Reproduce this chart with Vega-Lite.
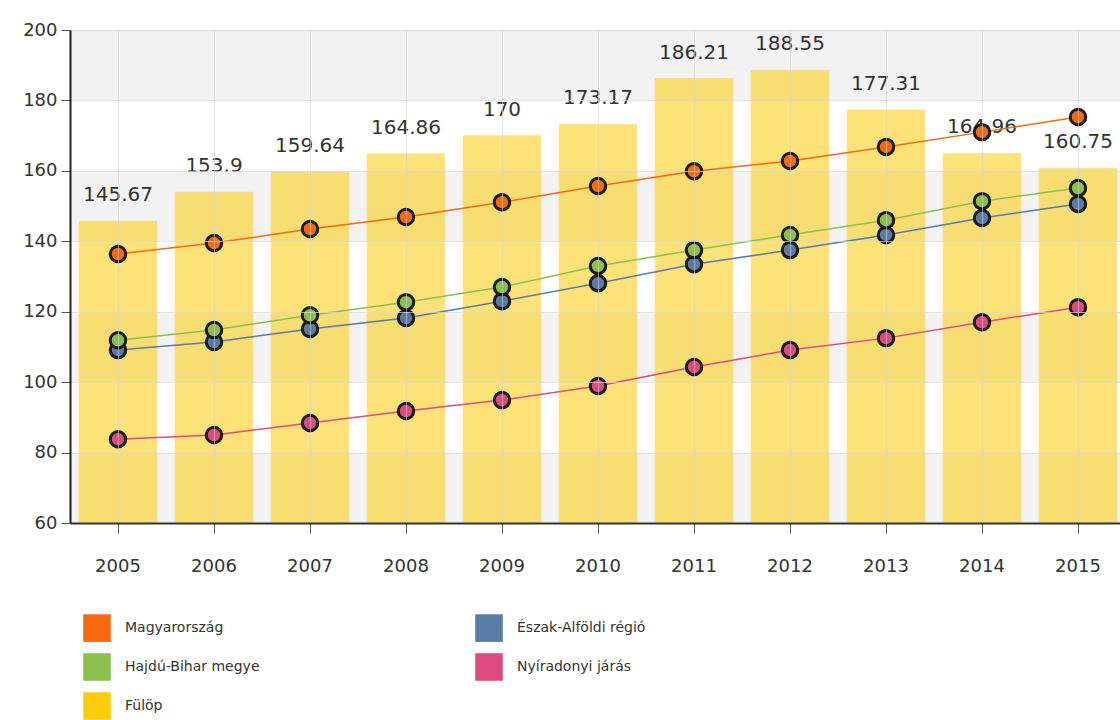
{
  "$schema": "https://vega.github.io/schema/vega-lite/v6.json",
  "autosize": "none",
  "width": 1056,
  "height": 493,
  "padding": {"left": 70, "top": 30, "right": 0, "bottom": 197},
  "background": "white",
  "config": {
    "font": "DejaVu Sans",
    "view": {"stroke": null},
    "legend": {
      "title": null,
      "orient": "none",
      "legendX": 13,
      "legendY": 584,
      "columns": 2,
      "columnPadding": 215,
      "rowPadding": 11,
      "symbolType": "square",
      "symbolSize": 760,
      "symbolOpacity": 1,
      "symbolStrokeWidth": 0,
      "labelFontSize": 14,
      "labelColor": "#333",
      "labelOffset": 14,
      "labelLimit": 300
    }
  },
  "datasets": {
    "bars": [
      {"year": "2005", "value": 145.67},
      {"year": "2006", "value": 153.9},
      {"year": "2007", "value": 159.64},
      {"year": "2008", "value": 164.86},
      {"year": "2009", "value": 170},
      {"year": "2010", "value": 173.17},
      {"year": "2011", "value": 186.21},
      {"year": "2012", "value": 188.55},
      {"year": "2013", "value": 177.31},
      {"year": "2014", "value": 164.96},
      {"year": "2015", "value": 160.75}
    ],
    "bands": [
      {"lo": 60, "hi": 80},
      {"lo": 100, "hi": 120},
      {"lo": 140, "hi": 160},
      {"lo": 180, "hi": 200}
    ],
    "lines": [
      {"year": "2005", "series": "Magyarország", "value": 136.4},
      {"year": "2006", "series": "Magyarország", "value": 139.5},
      {"year": "2007", "series": "Magyarország", "value": 143.5},
      {"year": "2008", "series": "Magyarország", "value": 146.9},
      {"year": "2009", "series": "Magyarország", "value": 151.1},
      {"year": "2010", "series": "Magyarország", "value": 155.7},
      {"year": "2011", "series": "Magyarország", "value": 159.9},
      {"year": "2012", "series": "Magyarország", "value": 162.8},
      {"year": "2013", "series": "Magyarország", "value": 166.8},
      {"year": "2014", "series": "Magyarország", "value": 171.0},
      {"year": "2015", "series": "Magyarország", "value": 175.3},
      {"year": "2005", "series": "Észak-Alföldi régió", "value": 109.1},
      {"year": "2006", "series": "Észak-Alföldi régió", "value": 111.4},
      {"year": "2007", "series": "Észak-Alföldi régió", "value": 115.1},
      {"year": "2008", "series": "Észak-Alföldi régió", "value": 118.2},
      {"year": "2009", "series": "Észak-Alföldi régió", "value": 123.0},
      {"year": "2010", "series": "Észak-Alföldi régió", "value": 128.1},
      {"year": "2011", "series": "Észak-Alföldi régió", "value": 133.5},
      {"year": "2012", "series": "Észak-Alföldi régió", "value": 137.5},
      {"year": "2013", "series": "Észak-Alföldi régió", "value": 141.8},
      {"year": "2014", "series": "Észak-Alföldi régió", "value": 146.6},
      {"year": "2015", "series": "Észak-Alföldi régió", "value": 150.6},
      {"year": "2005", "series": "Hajdú-Bihar megye", "value": 111.9},
      {"year": "2006", "series": "Hajdú-Bihar megye", "value": 114.8},
      {"year": "2007", "series": "Hajdú-Bihar megye", "value": 119.0},
      {"year": "2008", "series": "Hajdú-Bihar megye", "value": 122.7},
      {"year": "2009", "series": "Hajdú-Bihar megye", "value": 127.0},
      {"year": "2010", "series": "Hajdú-Bihar megye", "value": 133.0},
      {"year": "2011", "series": "Hajdú-Bihar megye", "value": 137.5},
      {"year": "2012", "series": "Hajdú-Bihar megye", "value": 141.8},
      {"year": "2013", "series": "Hajdú-Bihar megye", "value": 146.0},
      {"year": "2014", "series": "Hajdú-Bihar megye", "value": 151.4},
      {"year": "2015", "series": "Hajdú-Bihar megye", "value": 155.1},
      {"year": "2005", "series": "Nyíradonyi járás", "value": 83.8},
      {"year": "2006", "series": "Nyíradonyi járás", "value": 85.0},
      {"year": "2007", "series": "Nyíradonyi járás", "value": 88.4},
      {"year": "2008", "series": "Nyíradonyi járás", "value": 91.8},
      {"year": "2009", "series": "Nyíradonyi járás", "value": 94.9},
      {"year": "2010", "series": "Nyíradonyi járás", "value": 98.9},
      {"year": "2011", "series": "Nyíradonyi járás", "value": 104.3},
      {"year": "2012", "series": "Nyíradonyi járás", "value": 109.1},
      {"year": "2013", "series": "Nyíradonyi járás", "value": 112.5},
      {"year": "2014", "series": "Nyíradonyi járás", "value": 117.0},
      {"year": "2015", "series": "Nyíradonyi járás", "value": 121.3}
    ]
  },
  "resolve": {"scale": {"color": "shared"}},
  "layer": [
    {
      "data": {"name": "bands"},
      "mark": {"type": "rect", "color": "#f2f2f2"},
      "encoding": {
        "y": {"field": "lo", "type": "quantitative", "scale": {"domain": [60, 200], "nice": false, "zero": false}},
        "y2": {"field": "hi"}
      }
    },
    {
      "data": {"name": "bars"},
      "mark": {"type": "bar", "clip": true, "opacity": 0.55, "stroke": "#f5d020", "strokeWidth": 1, "strokeOpacity": 0.8},
      "encoding": {
        "x": {
          "field": "year", "type": "ordinal", "title": null,
          "scale": {"paddingInner": 0.19, "paddingOuter": 0.095},
          "axis": {
            "labelAngle": 0, "labelFontSize": 18, "labelColor": "#333", "labelPadding": 24,
            "tickSize": 10, "tickColor": "#555", "domainColor": "#333", "domainWidth": 2,
            "grid": true, "gridColor": "#d4d4d4", "gridOpacity": 0.6, "zindex": 1
          }
        },
        "y": {
          "field": "value", "type": "quantitative", "title": null,
          "scale": {"domain": [60, 200], "nice": false, "zero": false},
          "axis": {
            "values": [60, 80, 100, 120, 140, 160, 180, 200],
            "labelFontSize": 18, "labelColor": "#333", "labelPadding": 4,
            "tickSize": 9, "tickColor": "#555", "domainColor": "#222", "domainWidth": 2,
            "grid": true, "gridColor": "#d9d9d9", "gridOpacity": 0.7, "zindex": 1
          }
        },
        "color": {
          "datum": "Fülöp",
          "type": "nominal",
          "title": null,
          "scale": {
            "domain": ["Magyarország", "Hajdú-Bihar megye", "Fülöp", "Észak-Alföldi régió", "Nyíradonyi járás"],
            "range": ["#f8680f", "#8dbf4e", "#fdcc0a", "#5a7ba4", "#de4a7e"]
          }
        }
      }
    },
    {
      "data": {"name": "bars"},
      "mark": {"type": "text", "baseline": "bottom", "dy": -16, "fontSize": 20, "color": "#333"},
      "encoding": {
        "x": {"field": "year", "type": "ordinal"},
        "y": {"field": "value", "type": "quantitative"},
        "text": {"field": "value", "type": "quantitative"}
      }
    },
    {
      "data": {"name": "lines"},
      "mark": {"type": "line", "strokeWidth": 1.5},
      "encoding": {
        "x": {"field": "year", "type": "ordinal"},
        "y": {"field": "value", "type": "quantitative"},
        "color": {"field": "series", "type": "nominal", "title": null},
        "detail": {"field": "series"}
      }
    },
    {
      "data": {"name": "lines"},
      "mark": {"type": "point", "filled": true, "opacity": 1, "size": 240, "stroke": "#1a1a1a", "strokeWidth": 3},
      "encoding": {
        "x": {"field": "year", "type": "ordinal"},
        "y": {"field": "value", "type": "quantitative"},
        "color": {"field": "series", "type": "nominal", "title": null}
      }
    }
  ]
}
